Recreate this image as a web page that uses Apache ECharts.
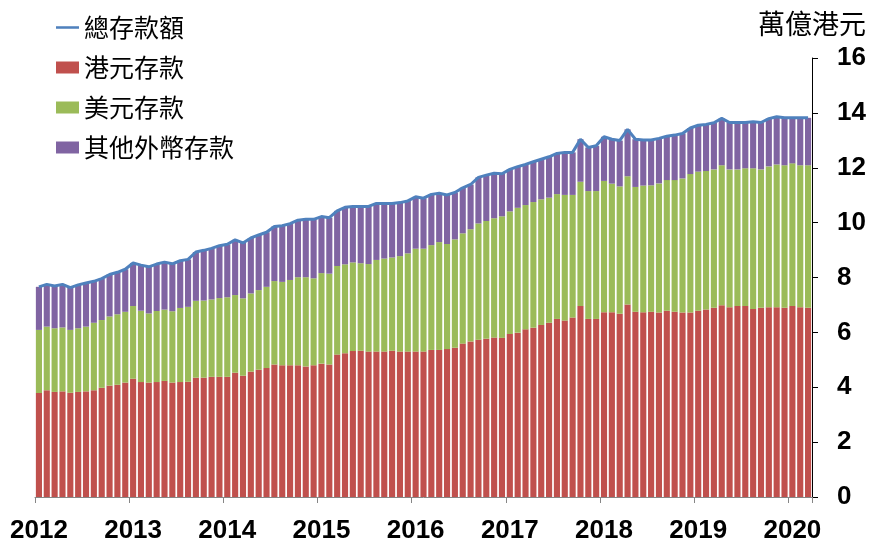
<!DOCTYPE html>
<html>
<head>
<meta charset="utf-8">
<script src="https://cdn.jsdelivr.net/npm/echarts@6/dist/echarts.min.js"></script>
<style>html,body{margin:0;padding:0;background:#fff}#c{width:872px;height:544px}</style>
</head>
<body>
<div id="c"></div>
<script>
// Monthly, Jan 2012 – Mar 2020 (萬億港元)
const months = [];
for (let y = 2012; y <= 2020; y++) for (let m = 1; m <= 12; m++) { if (y === 2020 && m > 3) break; months.push(y + '-' + (m < 10 ? '0' + m : m)); }

const hkd = [3.79,3.89,3.83,3.85,3.80,3.83,3.85,3.89,3.98,4.06,4.09,4.17,
4.31,4.19,4.17,4.19,4.23,4.17,4.19,4.20,4.35,4.35,4.38,4.38,
4.38,4.53,4.42,4.57,4.64,4.70,4.83,4.80,4.80,4.80,4.76,4.80,
4.86,4.83,5.19,5.24,5.32,5.33,5.30,5.30,5.30,5.33,5.30,5.30,
5.30,5.30,5.36,5.36,5.39,5.44,5.59,5.67,5.73,5.77,5.81,5.80,
5.94,5.99,6.11,6.17,6.27,6.35,6.49,6.43,6.54,6.96,6.49,6.49,
6.73,6.73,6.68,7.02,6.75,6.73,6.75,6.72,6.79,6.75,6.72,6.72,
6.79,6.83,6.90,6.99,6.92,6.96,6.96,6.85,6.90,6.92,6.92,6.90,
6.96,6.92,6.90];

const usd = [2.30,2.32,2.32,2.33,2.29,2.32,2.36,2.46,2.47,2.52,2.57,2.58,
2.65,2.60,2.52,2.59,2.60,2.60,2.70,2.73,2.80,2.81,2.82,2.87,
2.90,2.83,2.82,2.85,2.90,2.96,3.04,3.04,3.11,3.21,3.25,3.17,
3.30,3.31,3.23,3.24,3.23,3.19,3.19,3.34,3.39,3.40,3.48,3.58,
3.75,3.75,3.82,3.93,3.83,3.95,4.02,4.09,4.24,4.29,4.35,4.43,
4.47,4.55,4.53,4.58,4.58,4.56,4.55,4.58,4.47,4.53,4.66,4.66,
4.79,4.69,4.64,4.67,4.55,4.62,4.61,4.71,4.76,4.80,4.89,5.05,
5.07,5.05,5.04,5.10,5.02,4.98,5.02,5.13,5.04,5.13,5.20,5.19,
5.20,5.17,5.19];

const other = [1.57,1.54,1.54,1.57,1.54,1.58,1.59,1.51,1.51,1.53,1.53,1.55,
1.57,1.66,1.70,1.71,1.73,1.73,1.72,1.73,1.78,1.83,1.86,1.91,
1.93,2.01,2.02,2.02,2.01,1.99,1.99,2.05,2.05,2.08,2.11,2.15,
2.06,2.04,2.01,2.08,2.04,2.07,2.10,2.06,2.01,1.97,1.95,1.91,
1.89,1.84,1.85,1.78,1.79,1.71,1.66,1.63,1.68,1.67,1.64,1.55,
1.53,1.50,1.48,1.47,1.46,1.49,1.48,1.55,1.55,1.55,1.59,1.65,
1.61,1.62,1.67,1.71,1.74,1.66,1.65,1.64,1.60,1.64,1.64,1.68,
1.69,1.70,1.70,1.71,1.71,1.71,1.67,1.70,1.71,1.74,1.74,1.73,
1.66,1.73,1.73];

const total = hkd.map((v, i) => +(v + usd[i] + other[i]).toFixed(2));

const yTicks = [0, 2, 4, 6, 8, 10, 12, 14, 16];
const seriesNames = ['總存款額', '港元存款', '美元存款', '其他外幣存款'];
const unitLabel = '萬億港元';

const cjk = '"Noto Sans CJK TC", "Noto Sans CJK SC", sans-serif';
const num = '"Liberation Sans", Arial, sans-serif';

const chart = echarts.init(document.getElementById('c'), null, { renderer: 'canvas' });
chart.setOption({
  animation: false,
  backgroundColor: '#fff',
  grid: { left: 35, right: 60, top: 58, bottom: 47, containLabel: false },
  legend: {
    orient: 'vertical', left: 56, top: 15, itemGap: 15, padding: 0,
    itemWidth: 23, itemHeight: 12,
    textStyle: { fontFamily: cjk, fontSize: 25, color: '#000' },
    data: [
      { name: seriesNames[0], icon: 'path://M0 0 H100 V11 H0 Z' },
      { name: seriesNames[1], icon: 'rect' },
      { name: seriesNames[2], icon: 'rect' },
      { name: seriesNames[3], icon: 'rect' }
    ]
  },
  xAxis: {
    type: 'category', data: months, boundaryGap: true,
    axisLine: { show: true, lineStyle: { color: '#868686', width: 1 } },
    axisTick: { show: true, length: 6, lineStyle: { color: '#868686' }, interval: (i) => i % 12 === 0 },
    axisLabel: {
      interval: (i) => i % 12 === 0,
      formatter: (v) => v.slice(0, 4),
      fontFamily: num, fontWeight: 'bold', fontSize: 26, color: '#000',
      margin: 21
    },
    splitLine: { show: false }
  },
  yAxis: {
    type: 'value', position: 'right', min: yTicks[0], max: yTicks[yTicks.length - 1], interval: 2,
    name: unitLabel, nameLocation: 'end', nameGap: 21,
    nameTextStyle: { fontFamily: cjk, fontSize: 27, color: '#000', align: 'center', verticalAlign: 'bottom' },
    axisLine: { show: true, lineStyle: { color: '#000', width: 1 } },
    axisTick: { show: true, length: 6, lineStyle: { color: '#000' } },
    axisLabel: { fontFamily: num, fontWeight: 'bold', fontSize: 26, color: '#000', margin: 25 },
    splitLine: { show: false }
  },
  series: [
    { name: seriesNames[0], type: 'line', data: total, symbol: 'none', z: 5,
      lineStyle: { color: '#4F81BD', width: 3 }, itemStyle: { color: '#4F81BD' } },
    { name: seriesNames[1], type: 'bar', stack: 's', data: hkd, barCategoryGap: '22%',
      itemStyle: { color: '#C0504D' } },
    { name: seriesNames[2], type: 'bar', stack: 's', data: usd,
      itemStyle: { color: '#9BBB59' } },
    { name: seriesNames[3], type: 'bar', stack: 's', data: other,
      itemStyle: { color: '#8064A2' } }
  ]
});
</script>
</body>
</html>
